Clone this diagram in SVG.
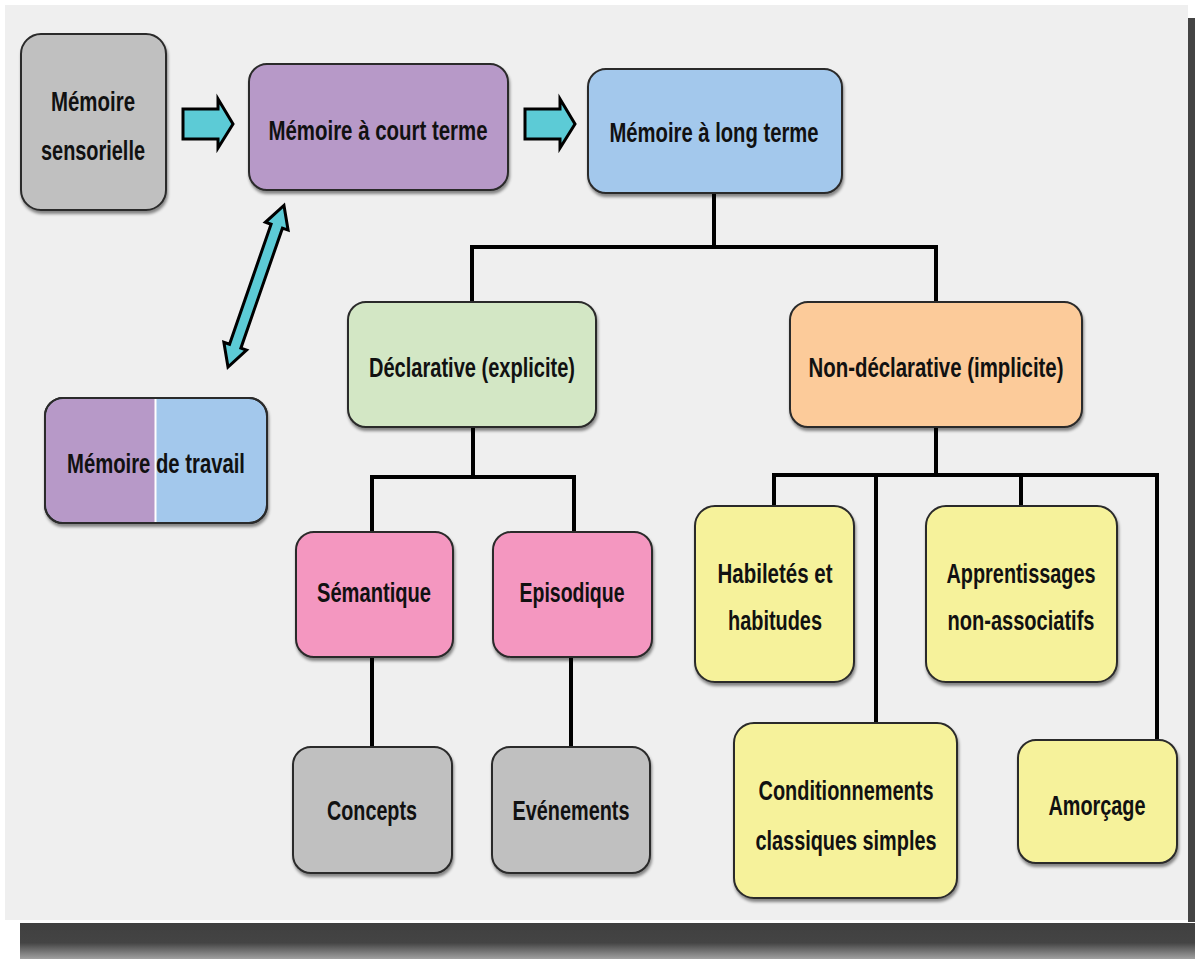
<svg xmlns="http://www.w3.org/2000/svg" width="1195" height="959" viewBox="0 0 1195 959">
<defs>
<filter id="sh" x="-10%" y="-10%" width="125%" height="130%">
<feDropShadow dx="1" dy="3" stdDeviation="1.5" flood-color="#000" flood-opacity="0.45"/>
</filter>
<linearGradient id="bshad" x1="0" y1="0" x2="0" y2="1">
<stop offset="0" stop-color="#404040"/>
<stop offset="0.55" stop-color="#444"/>
<stop offset="1" stop-color="#a0a0a0"/>
</linearGradient>
<style>
.box{stroke:#2a2a2a;stroke-width:2;filter:url(#sh)}
.gray{fill:#c0c0c0}.purple{fill:#b799c8}.blue{fill:#a3c8ec}.green{fill:#d3e7c5}
.orange{fill:#fccb9a}.pink{fill:#f497c0}.yellow{fill:#f6f29b}
.t{font-family:"Liberation Sans Narrow","Arial Narrow","Liberation Sans",sans-serif;font-weight:bold;font-size:28px;fill:#111;text-anchor:middle}
.con{fill:none;stroke:#000;stroke-width:4;stroke-linejoin:miter}
.arr{fill:#5ccbd6;stroke:#000;stroke-width:3;stroke-linejoin:miter}
</style>
</defs>
<rect x="0" y="0" width="1195" height="959" fill="#fff"/>
<rect x="1188" y="18" width="7" height="904" fill="#444"/>
<rect x="20" y="923" width="1175" height="36" fill="url(#bshad)"/>
<rect x="5" y="5" width="1183" height="915" fill="#efefef"/>

<g id="connectors">
<path class="con" d="M714,193 V247 M472,302 V247 H936 V302"/>
<path class="con" d="M473,427 V477 M372,532 V477 H574 V532"/>
<path class="con" d="M372,657 V747 M571,657 V747"/>
<path class="con" d="M936,427 V475 M774,506 V475 H1157 V740 M876,475 V723 M1021,475 V506"/>
<path class="arr" d="M183,109 H218 V99 L233,124 L218,148 V139 H183 Z"/>
<path class="arr" d="M525,109 H560 V99 L575,124 L560,148 V139 H525 Z"/>
<path class="arr" transform="translate(228,367) rotate(-70.9)" d="M0,0 L22,-12 L22,-6 L149,-6 L149,-12 L171,0 L149,12 L149,6 L22,6 L22,12 Z"/>
</g>

<g id="n-sensorielle">
<rect class="box gray" x="21" y="34" width="145" height="176" rx="20"/>
<text class="t" x="93" y="111" textLength="84" lengthAdjust="spacingAndGlyphs">Mémoire</text>
<text class="t" x="93" y="160" textLength="104" lengthAdjust="spacingAndGlyphs">sensorielle</text>
</g>
<g id="n-court">
<rect class="box purple" x="249" y="64" width="259" height="126" rx="18"/>
<text class="t" x="378" y="140" textLength="219" lengthAdjust="spacingAndGlyphs">Mémoire à court terme</text>
</g>
<g id="n-long">
<rect class="box blue" x="588" y="69" width="254" height="124" rx="18"/>
<text class="t" x="714" y="142" textLength="209" lengthAdjust="spacingAndGlyphs">Mémoire à long terme</text>
</g>
<g id="n-travail">
<rect class="box blue" x="45" y="398" width="222" height="125" rx="18"/>
<path class="purple" d="M155,399 H63 A17,17 0 0 0 46,416 V505 A17,17 0 0 0 63,522 H155 Z"/>
<line x1="155.5" y1="399" x2="155.5" y2="522" stroke="#fff" stroke-width="2"/>
<rect x="45" y="398" width="222" height="125" rx="18" fill="none" stroke="#2a2a2a" stroke-width="2"/>
<text class="t" x="156" y="473" textLength="178" lengthAdjust="spacingAndGlyphs">Mémoire de travail</text>
</g>
<g id="n-declarative">
<rect class="box green" x="348" y="302" width="248" height="125" rx="18"/>
<text class="t" x="472" y="377" textLength="206" lengthAdjust="spacingAndGlyphs">Déclarative (explicite)</text>
</g>
<g id="n-nondeclarative">
<rect class="box orange" x="790" y="302" width="292" height="125" rx="18"/>
<text class="t" x="936" y="377" textLength="255" lengthAdjust="spacingAndGlyphs">Non-déclarative (implicite)</text>
</g>
<g id="n-semantique">
<rect class="box pink" x="296" y="532" width="157" height="125" rx="18"/>
<text class="t" x="374" y="602" textLength="114" lengthAdjust="spacingAndGlyphs">Sémantique</text>
</g>
<g id="n-episodique">
<rect class="box pink" x="493" y="532" width="159" height="125" rx="18"/>
<text class="t" x="572" y="602" textLength="105" lengthAdjust="spacingAndGlyphs">Episodique</text>
</g>
<g id="n-concepts">
<rect class="box gray" x="293" y="747" width="159" height="126" rx="18"/>
<text class="t" x="372" y="820" textLength="90" lengthAdjust="spacingAndGlyphs">Concepts</text>
</g>
<g id="n-evenements">
<rect class="box gray" x="492" y="747" width="158" height="126" rx="18"/>
<text class="t" x="571" y="820" textLength="117" lengthAdjust="spacingAndGlyphs">Evénements</text>
</g>
<g id="n-habiletes">
<rect class="box yellow" x="695" y="506" width="159" height="176" rx="20"/>
<text class="t" x="775" y="583" textLength="115" lengthAdjust="spacingAndGlyphs">Habiletés et</text>
<text class="t" x="775" y="630" textLength="94" lengthAdjust="spacingAndGlyphs">habitudes</text>
</g>
<g id="n-apprentissages">
<rect class="box yellow" x="926" y="506" width="191" height="176" rx="20"/>
<text class="t" x="1021" y="583" textLength="149" lengthAdjust="spacingAndGlyphs">Apprentissages</text>
<text class="t" x="1021" y="630" textLength="147" lengthAdjust="spacingAndGlyphs">non-associatifs</text>
</g>
<g id="n-conditionnements">
<rect class="box yellow" x="734" y="723" width="223" height="175" rx="20"/>
<text class="t" x="846" y="800" textLength="175" lengthAdjust="spacingAndGlyphs">Conditionnements</text>
<text class="t" x="846" y="850" textLength="181" lengthAdjust="spacingAndGlyphs">classiques simples</text>
</g>
<g id="n-amorcage">
<rect class="box yellow" x="1018" y="740" width="159" height="123" rx="18"/>
<text class="t" x="1097" y="815" textLength="97" lengthAdjust="spacingAndGlyphs">Amorçage</text>
</g>
</svg>
